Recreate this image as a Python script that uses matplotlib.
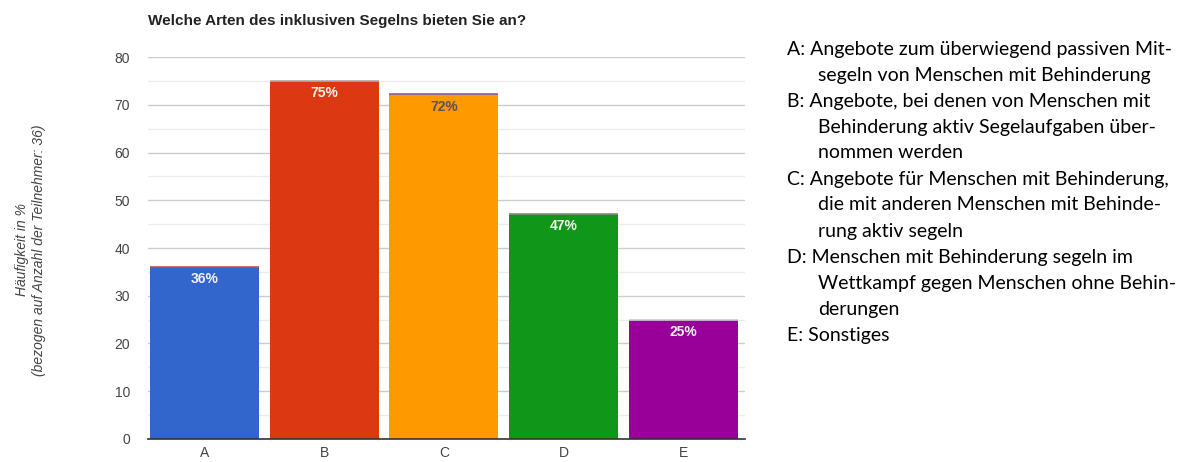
import numpy as np
import matplotlib.pyplot as plt
from matplotlib.ticker import MultipleLocator

# Daten
kategorien = ['A', 'B', 'C', 'D', 'E']
werte = [36.1, 75.0, 72.2, 47.2, 25.0]
beschriftung = ['36%', '75%', '72%', '47%', '25%']
farben = ['#3366cc', '#dc3912', '#ff9900', '#109618', '#990099']
text_farben = ['#f2f2f2', '#f2f2f2', '#555555', '#f2f2f2', '#f2f2f2']
kanten_farben = ['#c0504d', '#aaaaaa', '#8064a2', '#8a8a8a', '#cccccc']

legende = [
    ('A: Angebote zum überwiegend passiven Mit-', False),
    ('segeln von Menschen mit Behinderung', True),
    ('B: Angebote, bei denen von Menschen mit', False),
    ('Behinderung aktiv Segelaufgaben über-', True),
    ('nommen werden', True),
    ('C: Angebote für Menschen mit Behinderung,', False),
    ('die mit anderen Menschen mit Behinde-', True),
    ('rung aktiv segeln', True),
    ('D: Menschen mit Behinderung segeln im', False),
    ('Wettkampf gegen Menschen ohne Behin-', True),
    ('derungen', True),
    ('E: Sonstiges', False),
]

plt.rcParams['font.family'] = ['Liberation Sans', 'DejaVu Sans']

fig = plt.figure(figsize=(11.82, 4.62), dpi=100)
ax = fig.add_axes([0.1252, 0.0498, 0.5048, 0.8268])

x = np.arange(len(kategorien))
ax.bar(x, werte, width=0.91, color=farben, zorder=3)
ax.hlines(werte, x - 0.455, x + 0.455, colors=kanten_farben, lw=1.2, zorder=4)

for xi, v, t, c in zip(x, werte, beschriftung, text_farben):
    ax.annotate(t, (xi, v), xytext=(0, -4), textcoords='offset points',
                ha='center', va='top', fontsize=10, fontweight='bold', color=c, zorder=5)

ax.set_xlim(-0.472, 4.514)
ax.set_ylim(0, 80)
ax.yaxis.set_major_locator(MultipleLocator(10))
ax.yaxis.set_minor_locator(MultipleLocator(5))
ax.grid(axis='y', which='major', color='#cccccc', lw=1, zorder=0)
ax.grid(axis='y', which='minor', color='#ebebeb', lw=1, zorder=0)
ax.set_xticks(x)
ax.set_xticklabels(kategorien)
ax.tick_params(axis='both', which='both', length=0, labelsize=10, labelcolor='#444444')
ax.tick_params(axis='y', pad=13)
ax.tick_params(axis='x', pad=5)
for s in ['top', 'right', 'left']:
    ax.spines[s].set_visible(False)
ax.spines['bottom'].set_color('#333333')
ax.spines['bottom'].set_linewidth(1.2)
ax.spines['bottom'].set_zorder(6)

fig.text(0.1252, 0.955, 'Welche Arten des inklusiven Segelns bieten Sie an?',
         fontsize=11, fontweight='bold', color='#222222', ha='left', va='center')

fig.text(0.026, 0.459, 'Häufigkeit in %\n(bezogen auf Anzahl der Teilnehmer: 36)',
         rotation=90, ha='center', va='center', fontsize=10, style='italic',
         color='#444444', linespacing=1.3)

y0 = 1 - 49 / 462
dy = 26 / 462
for i, (zeile, eingerueckt) in enumerate(legende):
    xpos = 818 / 1182 if eingerueckt else 787 / 1182
    fig.text(xpos, y0 - i * dy, zeile, fontsize=14, family=['Lato', 'DejaVu Sans'],
             color='#000000', ha='left', va='center')

fig.savefig('out.png', dpi=100)
